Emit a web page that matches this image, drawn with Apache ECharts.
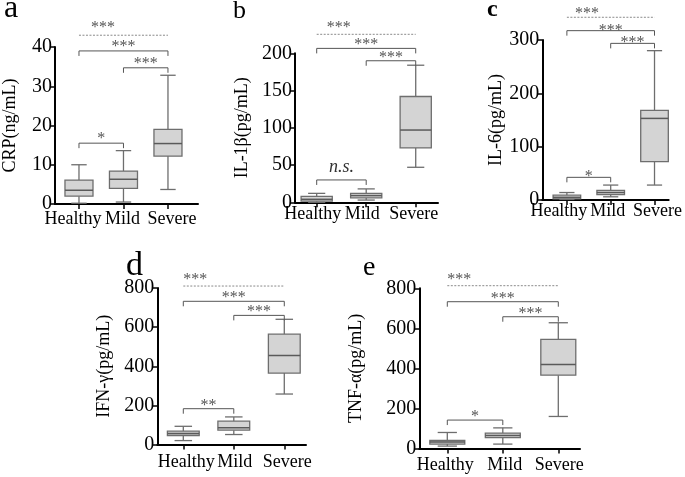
<!DOCTYPE html>
<html><head><meta charset="utf-8">
<script src="https://cdn.jsdelivr.net/npm/echarts@6/dist/echarts.min.js"></script>
<style>html,body{margin:0;padding:0;background:#fff}#c{width:685px;height:477px}</style>
</head><body><div id="c"></div><script>
// ---------- data ----------
const groups = ['Healthy', 'Mild', 'Severe'];
// each row: [whisker low, Q1, median, Q3, whisker high]
const crpBoxes  = [[0.2, 2.0, 3.5, 6.1, 10.0], [0.5, 4.0, 6.3, 8.4, 13.6], [3.7, 12.2, 15.4, 19.0, 32.8]];
const il1bBoxes = [[0, 1.5, 4, 8, 12], [3, 6, 9, 12, 18], [47, 73, 97, 142, 184]];
const il6Boxes  = [[1, 2, 5, 9, 14], [6, 10, 14, 18, 28], [28, 72, 153, 168, 280]];
const ifngBoxes = [[20, 46, 56, 68, 93], [51, 73, 85, 119, 141], [258, 365, 455, 564, 640]];
const tnfaBoxes = [[12, 22, 33, 40, 80], [22, 54, 65, 77, 103], [160, 366, 420, 545, 628]];
// significance marks: [from group, to group, height, label, dashed]
const crpSig  = [[1, 2, 15.5, '*', 0], [2, 3, 34.7, '***', 0], [1, 3, 39, '***', 0], [1, 3, 43, '***', 1]];
const il1bSig = [[1, 2, 30, 'n.s.', 0], [2, 3, 190, '***', 0], [1, 3, 206.6, '***', 0], [1, 3, 225.5, '***', 1]];
const il6Sig  = [[1, 2, 42.5, '*', 0], [2, 3, 293.7, '***', 0], [1, 3, 317.5, '***', 0], [1, 3, 342.6, '***', 1]];
const ifngSig = [[1, 2, 183, '**', 0], [2, 3, 660, '***', 0], [1, 3, 732, '***', 0], [1, 3, 810, '***', 1]];
const tnfaSig = [[1, 2, 142, '*', 0], [2, 3, 658, '***', 0], [1, 3, 733, '***', 0], [1, 3, 813, '***', 1]];
const yMax = [40, 200, 300, 800, 800];
const yStep = [10, 50, 100, 200, 200];
const yNames = ['CRP(ng/mL)', 'IL-1β(pg/mL)', 'IL-6(pg/mL)', 'IFN-γ(pg/mL)', 'TNF-α(pg/mL)'];
const letters = ['a', 'b', 'c', 'd', 'e'];

// ---------- layout / style ----------
const SERIF = 'Liberation Serif';
const layout = [
  {grid: {left: 55, top: 47, width: 143, height: 157}, xmin: 0.461, xmax: 3.675, nameGap: 36, lx: 4, ly: 9, ls: 32, lw: 'normal', dashOff: 12, lift: 7, shift: [-6, -1, 4], lm: 6},
  {grid: {left: 295, top: 53.3, width: 143, height: 149}, xmin: 0.562, xmax: 3.45, nameGap: 44, lx: 233, ly: 11, ls: 26, lw: 'normal', dashOff: 10, lift: 6, shift: [-4, -4, -2], lm: 3},
  {grid: {left: 542.3, top: 40, width: 130.7, height: 160}, xmin: 0.439, xmax: 3.324, nameGap: 37, lx: 487, ly: 10, ls: 24, lw: 'bold', dashOff: 8, lift: 3, shift: [-8, -3, 3], lm: 2},
  {grid: {left: 157.3, top: 288, width: 148.7, height: 156.5}, xmin: 0.485, xmax: 3.43, nameGap: 44, lx: 126, ly: 266, ls: 34, lw: 'normal', dashOff: 0, lift: 6, shift: [3, 1, 3], lm: 9},
  {grid: {left: 419.3, top: 288.3, width: 160.7, height: 160.2}, xmin: 0.4955, xmax: 3.391, nameGap: 54, lx: 363, ly: 268, ls: 28, lw: 'normal', dashOff: 0, lift: 6, shift: [-2, 2, 1], lm: 8}
];
const allBoxes = [crpBoxes, il1bBoxes, il6Boxes, ifngBoxes, tnfaBoxes];
const allSig = [crpSig, il1bSig, il6Sig, ifngSig, tnfaSig];
const BOXW = 0.63;
const BOX_FILL = '#d4d4d4', BOX_LINE = '#6e6e6e', SIG_LINE = '#555', DASH_LINE = '#8a8a8a';

function boxRender(params, api) {
  const x = api.value(0);
  const lo = api.coord([x, api.value(1)]);
  const q1 = api.coord([x, api.value(2)]);
  const md = api.coord([x, api.value(3)]);
  const q3 = api.coord([x, api.value(4)]);
  const hi = api.coord([x, api.value(5)]);
  const half = api.size([BOXW, 0])[0] / 2;
  const cap = half * 0.55;
  const cx = lo[0];
  const st = {stroke: BOX_LINE, lineWidth: 1.3, fill: null};
  return {type: 'group', children: [
    {type: 'line', shape: {x1: cx, y1: lo[1], x2: cx, y2: q1[1]}, style: st},
    {type: 'line', shape: {x1: cx, y1: q3[1], x2: cx, y2: hi[1]}, style: st},
    {type: 'line', shape: {x1: cx - cap, y1: lo[1], x2: cx + cap, y2: lo[1]}, style: st},
    {type: 'line', shape: {x1: cx - cap, y1: hi[1], x2: cx + cap, y2: hi[1]}, style: st},
    {type: 'rect', shape: {x: cx - half, y: q3[1], width: 2 * half, height: q1[1] - q3[1]},
      style: {fill: BOX_FILL, stroke: BOX_LINE, lineWidth: 1.3}},
    {type: 'line', shape: {x1: cx - half, y1: md[1], x2: cx + half, y2: md[1]}, style: {stroke: '#5a5a5a', lineWidth: 1.5}}
  ]};
}

function makeSigRender(sig, lay) {
  return function (params, api) {
    const s = sig[params.dataIndex];
    const p1 = api.coord([s[0], s[2]]);
    const p2 = api.coord([s[1], s[2]]);
    const y = p1[1];
    const isNs = s[3] === 'n.s.';
    const children = [];
    if (s[4]) {
      children.push({type: 'line', shape: {x1: p1[0], y1: y, x2: p2[0], y2: y},
        style: {stroke: DASH_LINE, lineWidth: 1, lineDash: [2, 1.5]}});
      children.push({type: 'text', style: {text: s[3], x: p1[0] + lay.dashOff, y: y - lay.lift - 3 + 2.8,
        align: 'left', verticalAlign: 'middle', font: '16px ' + SERIF, fill: '#555'}});
    } else {
      children.push({type: 'polyline', shape: {points: [[p1[0], y + 5], [p1[0], y], [p2[0], y], [p2[0], y + 5]]},
        style: {stroke: SIG_LINE, lineWidth: 1, fill: null}});
      if (isNs) {
        children.push({type: 'text', style: {text: s[3], x: (p1[0] + p2[0]) / 2, y: y - 13,
          align: 'center', verticalAlign: 'middle', font: 'italic 18px ' + SERIF, fill: '#333'}});
      } else {
        children.push({type: 'text', style: {text: s[3], x: (p1[0] + p2[0]) / 2, y: y - lay.lift + 2.8,
          align: 'center', verticalAlign: 'middle', font: '16px ' + SERIF, fill: '#555'}});
      }
    }
    return {type: 'group', children};
  };
}

// rich styles nudging each group label sideways like the reference
function richFor(lay) {
  const r = {};
  lay.shift.forEach((d, k) => {
    r['t' + k] = {fontFamily: SERIF, fontSize: 18, color: '#000',
      padding: d < 0 ? [0, -2 * d, 0, 0] : [0, 0, 0, 2 * d]};
  });
  return r;
}
function xLabel(lay, values) {
  return {customValues: values, formatter: v => { const k = Math.round(v) - 1; return '{t' + k + '|' + groups[k] + '}'; },
    rich: richFor(lay), fontFamily: SERIF, fontSize: 18, color: '#000', margin: lay.lm,
    showMinLabel: true, showMaxLabel: true, hideOverlap: false};
}

const option = {animation: false, backgroundColor: '#fff', textStyle: {fontFamily: SERIF},
  grid: [], xAxis: [], yAxis: [], series: [], graphic: []};
// main axes (outer groups labelled)
layout.forEach((lay, i) => {
  option.grid.push(Object.assign({}, lay.grid));
  option.xAxis.push({
    type: 'value', gridIndex: i, position: 'bottom', min: lay.xmin, max: lay.xmax, splitLine: {show: false},
    axisLine: {show: true, onZero: false, lineStyle: {color: '#000', width: 2}},
    axisTick: {show: true, customValues: [1, 2, 3], length: 5, lineStyle: {color: '#000', width: 1.5}},
    axisLabel: xLabel(lay, [1, 3])
  });
  option.yAxis.push({
    type: 'value', gridIndex: i, min: 0, max: yMax[i], interval: yStep[i],
    name: yNames[i], nameLocation: 'middle', nameGap: lay.nameGap,
    nameTextStyle: {fontFamily: SERIF, fontSize: 18, color: '#000'},
    splitLine: {show: false},
    axisLine: {show: true, onZero: false, lineStyle: {color: '#000', width: 2}},
    axisTick: {show: true, length: 5, lineStyle: {color: '#000', width: 1.5}},
    axisLabel: {fontFamily: SERIF, fontSize: 20, color: '#000', margin: 3, showMinLabel: true, showMaxLabel: true}
  });
  option.series.push({
    type: 'custom', xAxisIndex: i, yAxisIndex: i, clip: false,
    data: allBoxes[i].map((b, k) => [k + 1].concat(b)),
    encode: {x: 0, y: [1, 2, 3, 4, 5]},
    renderItem: boxRender
  });
  option.series.push({
    type: 'custom', xAxisIndex: i, yAxisIndex: i, clip: false,
    data: allSig[i].map(s => [s[0], s[2]]),
    encode: {x: 0, y: 1},
    renderItem: makeSigRender(allSig[i], lay)
  });
  option.graphic.push({type: 'text', left: lay.lx, top: lay.ly - lay.ls / 2,
    style: {text: letters[i], font: lay.lw + ' ' + lay.ls + 'px ' + SERIF, fill: '#000'}});
});
// companion axes carrying the middle group label (kept separate so it is never dropped as overlapping)
layout.forEach((lay, i) => {
  option.xAxis.push({
    type: 'value', gridIndex: i, position: 'bottom', min: lay.xmin, max: lay.xmax, splitLine: {show: false},
    axisLine: {show: false}, axisTick: {show: false},
    axisLabel: xLabel(lay, [2])
  });
});

const chart = echarts.init(document.getElementById('c'), null, {renderer: 'canvas'});
chart.setOption(option);
</script></body></html>
